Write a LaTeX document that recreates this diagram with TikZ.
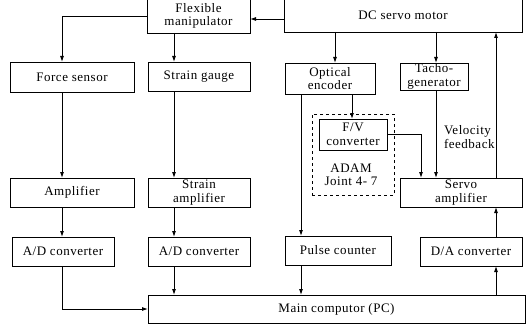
\documentclass[tikz,border=0pt]{standalone}
\usepackage{fontspec}
\setmainfont{Liberation Serif}[LetterSpace=4]
\usetikzlibrary{arrows.meta,positioning}

\begin{document}
\begin{tikzpicture}[x=1pt, y=-1pt,
  block/.style={draw, line width=0.9pt, inner sep=0pt, outer sep=0pt, align=center, font=\fontsize{13}{13.5}\selectfont},
  dashbox/.style={draw, dashed, line width=0.8pt, inner sep=0pt, outer sep=0pt},
  note/.style={inner sep=1pt, align=center, font=\fontsize{13}{13.5}\selectfont},
  arrow/.style={-{Latex[length=6pt,width=4pt]}, line width=0.9pt}
]
\clip (0,0) rectangle (526,326);
\node[block, minimum width=103, minimum height=34] (manip) at (198.5,16) {Flexible\\manipulator};
\node[block, minimum width=238, minimum height=33] (motor) at (403,15.5) {DC servo motor};
\node[block, minimum width=124, minimum height=30] (force) at (72,77) {Force sensor};
\node[block, minimum width=102, minimum height=29] (strain) at (199,76.5) {Strain gauge};
\node[block, minimum width=90, minimum height=31] (optical) at (330,78.5) {Optical\\encoder};
\node[block, minimum width=68, minimum height=27] (tacho) at (434,76.5) {Tacho-\\generator};
\node[dashbox, minimum width=82, minimum height=81] (adam) at (353,154.5) {};
\node[block, minimum width=68, minimum height=31] (fv) at (353,134.5) {F/V\\converter};
\node[note] (adamtxt) at (351,175) {ADAM\\Joint 4- 7};
\node[block, minimum width=122, minimum height=29] (servo) at (461,192.5) {Servo\\amplifier};
\node[block, minimum width=124, minimum height=29] (amp) at (72,192.5) {Amplifier};
\node[block, minimum width=102, minimum height=29] (samp) at (199,192.5) {Strain\\amplifier};
\node[block, minimum width=102, minimum height=29] (ad1) at (63,251.5) {A/D converter};
\node[block, minimum width=102, minimum height=29] (ad2) at (199,251.5) {A/D converter};
\node[block, minimum width=106, minimum height=29] (pulse) at (338,250.5) {Pulse counter};
\node[block, minimum width=102, minimum height=29] (da) at (471,251.5) {D/A converter};
\node[block, minimum width=377, minimum height=28] (pc) at (336.5,309) {Main computor (PC)};
% manipulator side
\draw[arrow] ([yshift=-3.5pt]motor.west) -- ([yshift=-3pt]manip.east);
\draw[arrow] (manip.west) -| ([xshift=-10pt]force.north);
\draw[arrow] ([xshift=-24.5pt]manip.south) -- ([xshift=-25pt]strain.north);
\draw[arrow] ([xshift=-10pt]force.south) -- ([xshift=-10pt]amp.north);
\draw[arrow] ([xshift=-10pt]amp.south) -- ([xshift=-1pt]ad1.north);
\draw[arrow] ([xshift=-25pt]strain.south) -- ([xshift=-25pt]samp.north);
\draw[arrow] ([xshift=-25pt]samp.south) -- ([xshift=-25pt]ad2.north);
\draw[arrow] ([xshift=-1pt]ad1.south) |- (pc.west);
\draw[arrow] ([xshift=-25pt]ad2.south) -- ([xshift=-162.5pt]pc.north);
% motor side
\draw[arrow] ([xshift=-68pt]motor.south) -- ([xshift=5pt]optical.north);
\draw[arrow] ([xshift=33pt]motor.south) -- ([xshift=2pt]tacho.north);
\draw[arrow] ([xshift=22pt]optical.south) -- ([xshift=-1pt]fv.north);
\draw[arrow] ([xshift=-29pt]optical.south) -- ([xshift=-37pt]pulse.north);
\draw[arrow] ([xshift=-37pt]pulse.south) -- ([xshift=-35.5pt]pc.north);
\draw[arrow] (fv.east) -| ([xshift=-40pt]servo.north);
\draw[arrow] ([xshift=2pt]tacho.south) -- ([xshift=-25pt]servo.north);
\draw[arrow] ([xshift=35pt]servo.north) -- node[note, pos=0.28, left, align=left] (vfb) {Velocity\\feedback} ([xshift=93pt]motor.south);
\draw[arrow] ([xshift=25pt]da.north) -- ([xshift=35pt]servo.south);
\draw[arrow] ([xshift=159.5pt]pc.north) -- ([xshift=25pt]da.south);
\end{tikzpicture}
\end{document}
